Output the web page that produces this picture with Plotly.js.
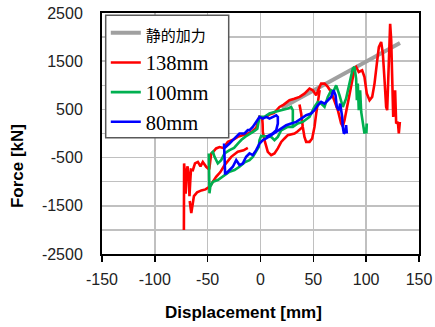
<!DOCTYPE html>
<html>
<head>
<meta charset="utf-8">
<script src="https://cdn.plot.ly/plotly-3.0.1.min.js"></script>
<style>html,body{margin:0;padding:0;background:#fff;}#chart{width:435px;height:327px;}</style>
</head>
<body>
<div id="chart"></div>
<script>
// ---- data ----
const seriesNames = ['静的加力', '138mm', '100mm', '80mm'];

const staticX = [20, 132];
const staticY = [530, 1880];

const red138X = [-72.5,-72.3,-71.5,-70.8,-70,-69,-68,-67.2,-66.5,-65.8,-64,-62,-59.3,-56.8,-54.6,-51.4,-48.5,-46.7,-44,-42,-38.8,-35,-30.9,-26,-21.5,-17,-12,-8,-4,-1,2,5.4,9,13,18,22,27.4,32,37,41.6,46.4,49.5,52.7,55.8,57.4,60.6,63.7,66.9,70,73.2,76.3,77.9,79.5,82.6,85.8,89,90.5,93,96.2,98.4,100.6,103.2,105.7,107.9,110.1,112,114.2,115.8,117.4,118.9,119.9,120.5,121.5,122.7,123.7,124.6,125.6,126.5,127.4,128.4,130,130.9,131.9,
  null,
  36.9,38.5,40,41.6,43.2,46.4,48.9,51.1,52.7,54.2,55.2,56,
  null,
  40,38.5,35,32.2,28,25.8,22.7,19.6,16.4,13.2,10.1,6.9,3.8,2.2,2,1.5,
  null,
  -12,-16,-21.5,-27.7,-34,-38,-42,-45,-48,-52,-56,-60,-63,-65.5,-67];
const red138Y = [-2000,-620,-850,-1250,-800,-680,-900,-1300,-1000,-750,-760,-620,-590,-680,-590,-690,-745,-420,-360,-310,-280,-300,-173,-130,-70,-40,0,40,120,345,330,345,400,430,550,600,690,720,760,827,931,896,792,965,1034,1035,966,862,690,483,207,150,276,621,966,1345,1380,1276,1310,1173,828,690,759,1035,1449,1794,1897,1656,1104,552,483,966,1242,2277,1932,1035,345,690,897,207,241,0,241,
  null,
  600,414,137,-70,-174,-174,-103,137,414,620,758,900,
  null,
  137,103,40,0,-20,-35,-103,-174,-310,-414,-449,-381,-139,33,200,344,
  null,
  -300,-350,-380,-484,-656,-800,-900,-1000,-1100,-1160,-1180,-1220,-1300,-1650,-1400];

const green100X = [-48.9,-48.5,-48.3,-47.5,-45,-40.4,-35.6,-29.3,-24.6,-19.9,-15.1,-10.4,-7.3,-4.1,-2,-1.6,-1,0.6,5,10.1,13.2,16.4,19.6,25.8,30.6,35.3,40,46.4,51,54.3,57.4,60.6,63.7,66.9,69,71.6,74.8,77.9,81,84.2,87.3,88.9,90.5,91.2,92.1,93,94.3,95.3,96.8,98.4,99.2,100,100.6,100.2,
  null,
  -46.7,-45,-43.5,-40.4,-37.2,-34,-29.3,-25,-21,-18,-14,-10,-6,-3,-1,3.8,8.5,13.2,19.6,25.8,29,30.6,30.6];
const green100Y = [-414,-900,-1240,-1100,-1000,-966,-897,-793,-759,-690,-600,-552,-484,-381,-300,-276,-139,-50,-60,-70,-139,-70,68,137,137,207,240,345,552,655,620,552,759,897,870,1000,792,551,724,1068,1345,1380,1138,690,1035,483,897,447,172,0,120,34,207,0,
  null,
  -414,-380,-483,-621,-552,-414,-345,-300,-200,-130,-60,-10,50,100,344,344,414,447,482,517,551,482,137];

const blue80X = [-34.5,-34,-33.5,-32.5,-29.3,-26.2,-23,-19.9,-16.7,-13.6,-10.4,-7.3,-4.1,-0.9,2.2,5.4,10.1,14.8,19.6,24.3,29,33.8,38.5,43.2,47.9,51.1,54.3,57.4,60.6,63.7,66.9,69.1,71,72.2,74.1,75.4,77.3,77.9,78.9,80.4,81,81.7,
  null,
  -34,-32.5,-29.3,-26.2,-23,-19.9,-16.7,-15.1,-12,-10.4,-7.3,-4.1,-0.9,2.2,5.4,8.5,11.6,14.9,16.4,16.4,14.9,11.6,8.5,5.4];
const blue80Y = [-207,-500,-828,-828,-759,-690,-552,-655,-621,-483,-414,-448,-345,-207,-138,-103,-34,34,103,172,207,241,310,380,414,483,586,655,621,690,759,897,793,552,483,621,345,138,0,34,172,0,
  null,
  -300,-276,-207,-138,-69,0,0,0,69,69,137,240,344,310,344,310,344,379,344,207,69,0,-35,-70];

const xTickVals = [-150,-100,-50,0,50,100,150];
const xTickText = ['-150','-100','-50','0','50','100','150'];
const yTickVals = [-2500,-2000,-1500,-1000,-500,0,500,1000,1500,2000,2500];
const yTickText = ['-2500','','-1500','','-500','','500','','1500','','2500'];

const xTitle = 'Displacement [mm]';
const yTitle = 'Force [kN]';

// ---- traces ----
const traces = [
  {x: staticX, y: staticY, name: '<span style="font-size:15px">' + seriesNames[0] + '</span>', mode: 'lines',
   line: {color: '#a0a0a0', width: 4}},
  {x: red138X, y: red138Y, name: seriesNames[1], mode: 'lines', line: {color: '#ff0000', width: 2.6}},
  {x: green100X, y: green100Y, name: seriesNames[2], mode: 'lines', line: {color: '#00b050', width: 2.6}},
  {x: blue80X, y: blue80Y, name: seriesNames[3], mode: 'lines', line: {color: '#0000ff', width: 2.6}}
];

const titleFont = {family: 'Liberation Sans, Arial, sans-serif', size: 17, color: '#000', weight: 'bold'};

const layout = {
  width: 435, height: 327,
  margin: {l: 102, r: 16, t: 13, b: 73},
  paper_bgcolor: '#ffffff', plot_bgcolor: '#ffffff',
  showlegend: true,
  legend: {
    x: 0.012, y: 1.0, xanchor: 'left', yanchor: 'top',
    bgcolor: 'rgba(0,0,0,0)', borderwidth: 0,
    font: {family: 'Liberation Serif, Noto Sans CJK JP, serif', size: 20.5, color: '#000'}
  },
  shapes: [
    {type: 'rect', xref: 'paper', yref: 'paper', layer: 'above',
     x0: (105.7 - 102) / 317, x1: (228.7 - 102) / 317,
     y0: 1 - (137.5 - 12.7) / 241.3, y1: 1 - (15 - 12.7) / 241.3,
     fillcolor: '#ffffff', line: {color: '#595959', width: 1.5}}
  ],
  xaxis: {
    range: [-150, 150], tickmode: 'array', tickvals: xTickVals, ticktext: xTickText,
    showgrid: true, gridcolor: '#c0c0c0', gridwidth: 1.5, zeroline: false,
    showline: true, linecolor: '#000', linewidth: 2, mirror: true,
    ticks: 'outside', ticklen: 6, tickwidth: 1.5, tickcolor: '#000',
    ticklabelstandoff: 4,
    tickfont: {family: 'Liberation Sans, Arial, sans-serif', size: 16, color: '#222'}
  },
  yaxis: {
    range: [-2500, 2500], tickmode: 'array', tickvals: yTickVals, ticktext: yTickText,
    showgrid: true, gridcolor: '#c0c0c0', gridwidth: 1.5, zeroline: false,
    showline: true, linecolor: '#000', linewidth: 2, mirror: true,
    ticks: '', ticklabelstandoff: 14,
    tickfont: {family: 'Liberation Sans, Arial, sans-serif', size: 16, color: '#222'}
  },
  annotations: [
    {text: xTitle, xref: 'paper', yref: 'paper', x: (243.5 - 102) / 317, y: -(313 - 254) / 241.3,
     xanchor: 'center', yanchor: 'middle', showarrow: false, font: titleFont},
    {text: yTitle, xref: 'paper', yref: 'paper', x: -(102 - 17) / 317, y: 1 - (166 - 12.7) / 241.3,
     xanchor: 'center', yanchor: 'middle', textangle: -90, showarrow: false, font: titleFont}
  ]
};

Plotly.newPlot('chart', traces, layout, {displayModeBar: false, staticPlot: true});
</script>
</body>
</html>
